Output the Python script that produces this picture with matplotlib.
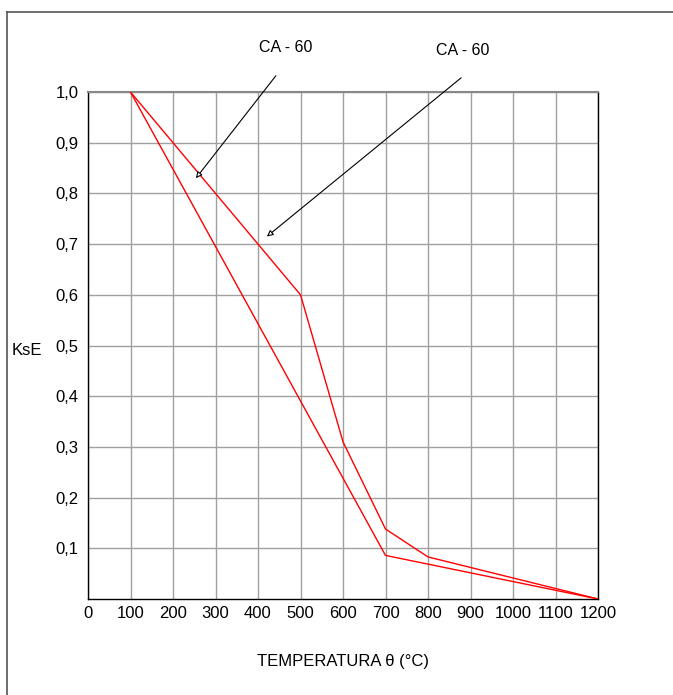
import matplotlib
matplotlib.use("Agg")
import matplotlib.pyplot as plt
from matplotlib.lines import Line2D

plt.rcParams['font.family'] = ['Liberation Sans', 'DejaVu Sans']

# Data
temp_a = [100, 500, 600, 700, 800, 1200]
kse_a = [1.0, 0.6, 0.31, 0.138, 0.083, 0.0]
temp_b = [100, 700, 1200]
kse_b = [1.0, 0.086, 0.0]

x_ticks = [0, 100, 200, 300, 400, 500, 600, 700, 800, 900, 1000, 1100, 1200]
y_ticks = [0.1, 0.2, 0.3, 0.4, 0.5, 0.6, 0.7, 0.8, 0.9, 1.0]
y_tick_labels = ["0,1", "0,2", "0,3", "0,4", "0,5", "0,6", "0,7", "0,8", "0,9", "1,0"]

annot_text = ["CA - 60", "CA - 60"]
annot_tips = [(254, 0.830), (421, 0.715)]
annot_starts = [(442, 1.032), (878, 1.028)]
annot_text_pos = [(466, 1.087), (882, 1.081)]

W, H = 673, 695
fig = plt.figure(figsize=(W / 100, H / 100), dpi=100)
ax = fig.add_axes([88 / W, 1 - 599 / H, (598 - 88) / W, (599 - 92) / H])

# outer frame
fig.add_artist(Line2D([7 / W, 1.0], [1 - 12 / H, 1 - 12 / H], transform=fig.transFigure,
                      color='#555555', lw=1.2))
fig.add_artist(Line2D([7 / W, 7 / W], [0.0, 1 - 12 / H], transform=fig.transFigure,
                      color='#555555', lw=1.2))

ax.plot(temp_a, kse_a, color='red', lw=1.0, zorder=3)
ax.plot(temp_b, kse_b, color='red', lw=1.0, zorder=3)

ax.set_xlim(0, 1200)
ax.set_ylim(0, 1.0)
ax.set_xticks(x_ticks)
ax.set_xticklabels([str(v) for v in x_ticks])
ax.set_yticks(y_ticks)
ax.set_yticklabels(y_tick_labels)
ax.tick_params(length=0, labelsize=12, colors='black')
ax.tick_params(axis='x', pad=5)
ax.tick_params(axis='y', pad=7)
ax.grid(True, color='#a0a0a0', lw=1.0)
ax.set_axisbelow(True)

for s in ['left', 'bottom', 'right']:
    ax.spines[s].set_color('black')
    ax.spines[s].set_linewidth(1.0)
ax.spines['top'].set_color('#888888')
ax.spines['top'].set_linewidth(1.5)

ax.set_xlabel("TEMPERATURA θ (°C)", fontsize=12, va='center')
ax.xaxis.set_label_coords(0.5, -0.124)
ax.set_ylabel("KsE", fontsize=12, rotation=0, va='center', ha='center')
ax.yaxis.set_label_coords(-0.12, 0.491)

for txt, tip, start, tpos in zip(annot_text, annot_tips, annot_starts, annot_text_pos):
    ax.annotate("", xy=tip, xytext=start, xycoords='data', textcoords='data',
                annotation_clip=False,
                arrowprops=dict(arrowstyle='-|>', fc='white', ec='black', lw=0.8,
                                mutation_scale=9, shrinkA=0, shrinkB=0))
    ax.text(tpos[0], tpos[1], txt, fontsize=11.5, ha='center', va='center', clip_on=False)

fig.savefig("out.png", dpi=100)
